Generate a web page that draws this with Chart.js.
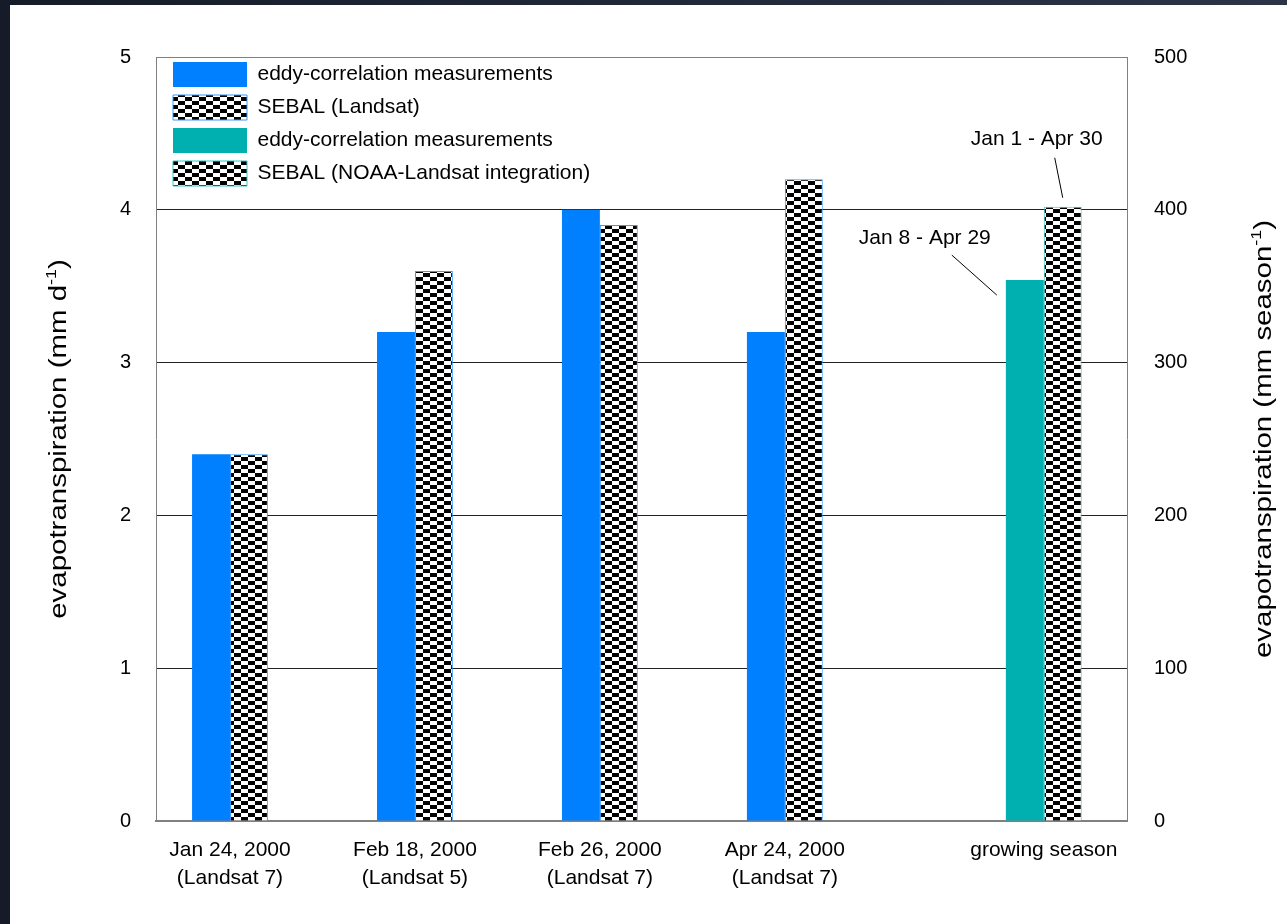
<!DOCTYPE html>
<html>
<head>
<meta charset="utf-8">
<script src="https://cdn.jsdelivr.net/npm/chart.js@4.4.1/dist/chart.umd.min.js"></script>
<style>
  html, body { margin: 0; height: 100%; }
  body { background: linear-gradient(to right, #151b28, #2c3447); overflow: hidden; }
  #wrap { position: absolute; left: 10px; top: 5px; width: 1277px; height: 919px; background: #fff; }
</style>
</head>
<body>
<div id="wrap"><canvas id="chart" width="1277" height="919"></canvas></div>
<script>
// category labels and where each group sits along the x axis (season set apart)
const categories = [
  "Jan 24, 2000\n(Landsat 7)",
  "Feb 18, 2000\n(Landsat 5)",
  "Feb 26, 2000\n(Landsat 7)",
  "Apr 24, 2000\n(Landsat 7)",
  "growing season"
];
const slots = [1, 2, 3, 4, 5.4];

// mm/day (left axis)
const eddyDaily = [2.4, 3.2, 4.0, 3.2, null];
const sebalLandsat = [2.4, 3.6, 3.9, 4.2, null];
// mm/season (right axis)
const eddySeason = [null, null, null, null, 354];
const sebalNoaa = [null, null, null, null, 402];

const seasonNotes = ["Jan 8 - Apr 29", "Jan 1 - Apr 30"];

const FONT = "'Liberation Sans', Arial, sans-serif";
Chart.defaults.font.family = FONT;
Chart.defaults.color = "#000";

function checker() {
  const c = document.createElement("canvas");
  c.width = 14; c.height = 8;
  const g = c.getContext("2d");
  g.fillStyle = "#fff"; g.fillRect(0, 0, 14, 8);
  g.fillStyle = "#000";
  g.fillRect(0, 0, 7, 4);
  g.fillRect(7, 4, 7, 4);
  return g.createPattern(c, "repeat");
}
const hatch = checker();

const toXY = vals => vals.map((v, i) => ({ x: slots[i], y: v }));

const legendInside = {
  id: "legendInside",
  afterLayout(chart) {
    const l = chart.legend, a = chart.chartArea;
    const w = l.width, h = l.height;
    l.left = a.left + 9; l.top = a.top - 3;
    l.right = l.left + w; l.bottom = l.top + h;
  }
};

const seasonLabels = {
  id: "seasonLabels",
  afterDatasetsDraw(chart) {
    const ctx = chart.ctx;
    const teal = chart.getDatasetMeta(2).data[4];
    const chk = chart.getDatasetMeta(3).data[4];
    ctx.save();
    ctx.strokeStyle = "#000"; ctx.lineWidth = 1;
    ctx.fillStyle = "#000"; ctx.font = "21px " + FONT;
    ctx.textAlign = "center"; ctx.textBaseline = "middle";
    ctx.beginPath();
    ctx.moveTo(teal.x - 28, teal.y + 15); ctx.lineTo(teal.x - 73, teal.y - 25);
    ctx.moveTo(chk.x, chk.y - 9); ctx.lineTo(chk.x - 8, chk.y - 49);
    ctx.stroke();
    ctx.fillText(seasonNotes[0], teal.x - 100, teal.y - 42);
    ctx.fillText(seasonNotes[1], chk.x - 26, chk.y - 68);
    ctx.restore();
  }
};

// vertical axis titles with superscript, drawn a bit stretched like the original
function vTitle(ctx, parts, x, y) {
  ctx.save();
  ctx.translate(x, y);
  ctx.rotate(-Math.PI / 2);
  ctx.scale(1.28, 1);
  ctx.fillStyle = "#000";
  ctx.textBaseline = "middle";
  let total = 0;
  parts.forEach(p => { ctx.font = p[1] + "px " + FONT; total += ctx.measureText(p[0]).width; });
  let cx = -total / 2;
  parts.forEach(p => {
    ctx.font = p[1] + "px " + FONT;
    ctx.fillText(p[0], cx, p[2]);
    cx += ctx.measureText(p[0]).width;
  });
  ctx.restore();
}
const axisTitles = {
  id: "axisTitles",
  afterDraw(chart) {
    const a = chart.chartArea, ctx = chart.ctx;
    const cy = (a.top + a.bottom) / 2;
    vTitle(ctx, [["evapotranspiration (mm d", 23, 0], ["-1", 14, -8], [")", 23, 0]], a.left - 96, cy);
    vTitle(ctx, [["evapotranspiration (mm season", 23, 0], ["-1", 14, -8], [")", 23, 0]], a.right + 138, cy);
  }
};

new Chart(document.getElementById("chart"), {
  type: "bar",
  data: {
    datasets: [
      { label: "eddy-correlation measurements", data: toXY(eddyDaily), yAxisID: "y",
        backgroundColor: "#0080ff", borderColor: "#0080ff", borderWidth: 0 },
      { label: "SEBAL (Landsat)", data: toXY(sebalLandsat), yAxisID: "y",
        backgroundColor: hatch, borderColor: "#3399ff", borderWidth: 1 },
      { label: "eddy-correlation measurements", data: toXY(eddySeason), yAxisID: "y2",
        backgroundColor: "#00b0b0", borderColor: "#00b0b0", borderWidth: 0 },
      { label: "SEBAL (NOAA-Landsat integration)", data: toXY(sebalNoaa), yAxisID: "y2",
        backgroundColor: hatch, borderColor: "#33c6c6", borderWidth: 1 }
    ]
  },
  options: {
    responsive: false,
    animation: false,
    layout: { padding: { top: 52, left: 0, right: 0, bottom: 0 } },
    datasets: { bar: { skipNull: true, barPercentage: 1, categoryPercentage: 0.41 } },
    plugins: {
      legend: {
        position: "chartArea",
        align: "start",
        labels: { boxWidth: 74, boxHeight: 25, padding: 8, color: "#000", font: { size: 21 } }
      },
      tooltip: { enabled: false }
    },
    scales: {
      x: {
        type: "linear",
        offset: false,
        min: 0.6,
        max: 5.85,
        afterBuildTicks: s => { s.ticks = slots.map(v => ({ value: v })); },
        afterFit: s => { s.height = 103; },
        grid: { display: false, drawTicks: false },
        border: { display: true, color: "#808080", width: 2 },
        ticks: {
          autoSkip: false, maxRotation: 0, padding: 16,
          font: { size: 21, lineHeight: 1.3 }, color: "#000",
          callback: (v, i) => categories[i].split("\n")
        }
      },
      y: {
        position: "left",
        min: 0, max: 5,
        ticks: { stepSize: 1, padding: 25, font: { size: 20 }, color: "#000" },
        afterFit: s => { s.width = 146; },
        grid: {
          drawTicks: false,
          color: c => (c.tick.value === 5 || c.tick.value === 0 ? "#808080" : "#222")
        },
        border: { color: "#808080", width: 1 }
      },
      y2: {
        position: "right",
        min: 0, max: 500,
        ticks: { stepSize: 100, padding: 27, font: { size: 20 }, color: "#000" },
        afterFit: s => { s.width = 160; },
        grid: { drawOnChartArea: false, drawTicks: false },
        border: { color: "#808080", width: 1 }
      }
    }
  },
  plugins: [legendInside, seasonLabels, axisTitles]
});
</script>
</body>
</html>
